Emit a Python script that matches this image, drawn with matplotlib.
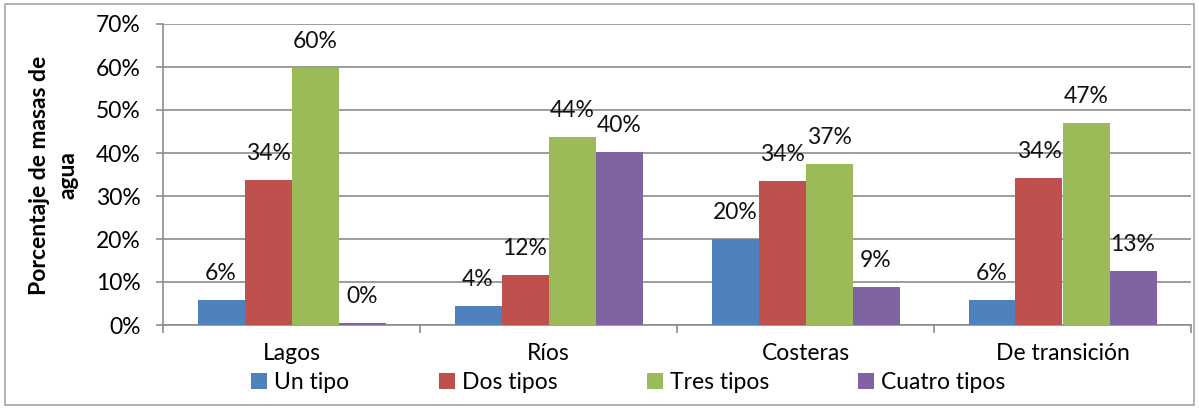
import numpy as np
import matplotlib
matplotlib.use('Agg')
import matplotlib.pyplot as plt
from matplotlib.patches import Rectangle

plt.rcParams['font.family'] = ['Lato', 'DejaVu Sans']
plt.rcParams['text.color'] = '#000000'

# datos del grafico
categorias = ['Lagos', 'Ríos', 'Costeras', 'De transición']
series = ['Un tipo', 'Dos tipos', 'Tres tipos', 'Cuatro tipos']
un_tipo = [5.8, 4.4, 20.0, 5.8]
dos_tipos = [33.8, 11.6, 33.6, 34.3]
tres_tipos = [59.8, 43.7, 37.4, 47.0]
cuatro_tipos = [0.4, 40.2, 8.8, 12.6]
colores = ['#4F81BD', '#C0504D', '#9BBB59', '#8064A2']
yticks = [0, 10, 20, 30, 40, 50, 60, 70]

valores = [un_tipo, dos_tipos, tres_tipos, cuatro_tipos]
fs = 16.5

fig = plt.figure(figsize=(11.99, 4.09), dpi=100)
ax = fig.add_axes([163 / 1199, 1 - 325 / 409, (1191 - 163) / 1199, (325 - 24) / 409])

x = np.arange(len(categorias))
ancho = 47 / 257
for i, (nombre, vals) in enumerate(zip(series, valores)):
    pos = x + (i - 1.5) * ancho
    ax.bar(pos, vals, ancho, color=colores[i], label=nombre, zorder=3)
    for px, v in zip(pos, vals):
        ax.annotate('%.0f%%' % v, (px, v), xytext=(0, 19), textcoords='offset points',
                    ha='center', va='center', fontsize=fs, color='#111111')

ax.set_xlim(-0.5, 3.5)
ax.set_ylim(0, 70)
ax.set_yticks(yticks)
ax.set_yticklabels(['%d%%' % t for t in yticks])
ax.yaxis.grid(True, color='#8c8c8c', linewidth=1.2, zorder=0)

# marcas entre categorias y etiquetas en el centro
ax.set_xticks(np.arange(-0.5, 4, 1))
ax.set_xticklabels([])
ax.set_xticks(x, minor=True)
ax.set_xticklabels(categorias, minor=True)
ax.tick_params(axis='x', which='major', length=6, color='#8c8c8c', width=1.2)
ax.tick_params(axis='x', which='minor', length=0, pad=13, labelsize=fs)
ax.tick_params(axis='y', length=5, color='#8c8c8c', width=1.2, pad=11, labelsize=fs)

for lado in ['top', 'right']:
    ax.spines[lado].set_visible(False)
for lado in ['left', 'bottom']:
    ax.spines[lado].set_color('#8c8c8c')
    ax.spines[lado].set_linewidth(1.2)

fig.text(0.045, 0.572, 'Porcentaje de masas de\nagua', rotation=90, ha='center', va='center',
         multialignment='center', fontsize=fs, fontweight='bold', linespacing=1.45)

fig.legend(loc='center', bbox_to_anchor=(0.524, 0.064), ncol=4, frameon=False, fontsize=fs,
           handlelength=0.7, handleheight=0.7, handletextpad=0.3, columnspacing=3.9)

# borde del grafico
fig.patches.append(Rectangle((5 / 1199, 4 / 409), 1 - 10 / 1199, 1 - 8 / 409, transform=fig.transFigure,
                             fill=False, edgecolor='#a6a6a6', linewidth=1.2))

plt.savefig('out.png', dpi=100)
